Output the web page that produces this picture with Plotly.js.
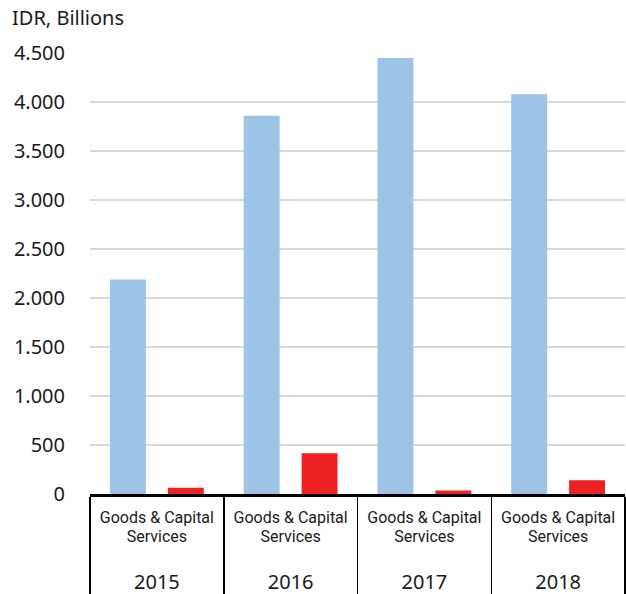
<!DOCTYPE html>
<html>
<head>
<meta charset="utf-8">
<script src="https://cdn.plot.ly/plotly-3.0.1.min.js"></script>
<style>
html,body{margin:0;padding:0;background:#fff;}
#chart{width:626px;height:594px;}
</style>
</head>
<body>
<div id="chart"></div>
<script>
const years = ['2015', '2016', '2017', '2018'];
const groupLabel = ['Goods & Capital', 'Services'];
const goods = [2190, 3860, 4450, 4080];
const capitalServices = [65, 415, 35, 140];
const yTicks = [0, 500, 1000, 1500, 2000, 2500, 3000, 3500, 4000, 4500];

const innerLabel = groupLabel.map(s => "<span style='font-size:16px'>" + s + "</span>").join('<br>');
const outerLabels = years.map(y => "<br><br><span style='font-family:Noto Sans;font-size:20px'>" + y + "</span>");
const xCats = [outerLabels, years.map(() => innerLabel)];

const traces = [
  {type: 'bar', name: 'Goods', x: xCats, y: goods,
   marker: {color: '#9DC3E6', line: {width: 0}}},
  {type: 'bar', name: 'Capital Services', x: xCats, y: capitalServices,
   marker: {color: '#ED2024', line: {width: 0}}}
];

const layout = {
  width: 626, height: 594,
  margin: {l: 90, r: 1, t: 53, b: 100},
  paper_bgcolor: '#fff', plot_bgcolor: '#fff',
  separators: ',.',
  showlegend: false,
  barmode: 'group',
  bargap: 0.134,
  bargroupgap: 0.38,
  font: {family: 'Noto Sans, sans-serif', color: '#1a1a1a', size: 20},
  title: {text: 'IDR, Billions', x: 12 / 626, xref: 'container', xanchor: 'left',
          y: 1 - 18 / 594, yref: 'container', yanchor: 'middle',
          font: {family: 'Noto Sans, sans-serif', size: 20, color: '#1a1a1a'}},
  xaxis: {
    type: 'multicategory',
    tickangle: 0,
    showline: true, linecolor: '#000', linewidth: 2.5,
    showgrid: false, ticks: '',
    ticklabelstandoff: 10,
    showdividers: true, dividercolor: '#000', dividerwidth: 1.5,
    tickfont: {family: 'Roboto, sans-serif', size: 14, color: '#1a1a1a'}
  },
  yaxis: {
    range: [0, 4500],
    tickvals: yTicks,
    tickformat: ',',
    showgrid: true, gridcolor: '#d9d9d9', gridwidth: 1.3,
    zeroline: false, showline: false,
    ticks: 'outside', ticklen: 20, tickcolor: 'rgba(0,0,0,0)',
    tickfont: {family: 'Noto Sans, sans-serif', size: 20, color: '#1a1a1a'}
  }
};

Plotly.newPlot('chart', traces, layout, {displayModeBar: false, staticPlot: true});
</script>
</body>
</html>
